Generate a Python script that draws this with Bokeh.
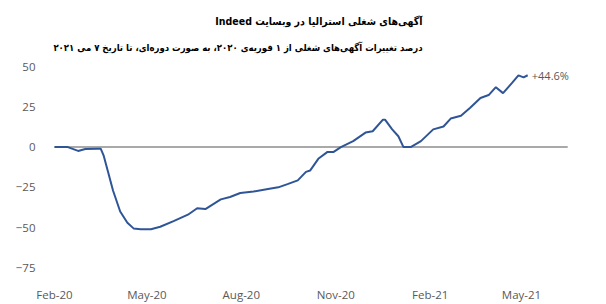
import pandas as pd
from bokeh.plotting import figure
from bokeh.models import Range1d, FixedTicker, Title, Label, ColumnDataSource, DatetimeTickFormatter
from bokeh.embed import file_html
from bokeh.resources import INLINE

# ---- data ----
dates = ["2020-02-01", "2020-02-14", "2020-02-24", "2020-03-02", "2020-03-14", "2020-03-17",
         "2020-03-20", "2020-03-24", "2020-03-29", "2020-04-05", "2020-04-12", "2020-04-18",
         "2020-04-25", "2020-05-05", "2020-05-14", "2020-05-27", "2020-06-10", "2020-06-19",
         "2020-06-27", "2020-07-12", "2020-07-21", "2020-07-31", "2020-08-13", "2020-08-27",
         "2020-09-06", "2020-09-15", "2020-09-25", "2020-10-03", "2020-10-07", "2020-10-15",
         "2020-10-24", "2020-10-30", "2020-11-06", "2020-11-18", "2020-11-30", "2020-12-07",
         "2020-12-17", "2020-12-19", "2020-12-26", "2021-01-01", "2021-01-06", "2021-01-13",
         "2021-01-23", "2021-02-04", "2021-02-14", "2021-02-21", "2021-03-03", "2021-03-12",
         "2021-03-22", "2021-03-30", "2021-04-06", "2021-04-13", "2021-04-22", "2021-04-28",
         "2021-05-03", "2021-05-07"]
values = [0.0, 0.0, -2.4, -1.2, -1.0, -1.0,
          -5.5, -15.0, -27.0, -40.0, -47.0, -50.5,
          -51.0, -51.0, -49.5, -46.0, -42.0, -38.0,
          -38.5, -32.5, -31.0, -28.5, -27.6, -26.0,
          -25.0, -23.0, -20.7, -15.4, -14.6, -7.3,
          -3.0, -3.0, 0.0, 3.7, 9.0, 9.8,
          17.0, 17.0, 11.0, 6.7, 0.0, 0.0,
          3.7, 11.0, 12.8, 17.7, 19.5, 24.4,
          30.5, 32.3, 37.2, 33.5, 40.0, 44.5,
          43.3, 44.6]
tick_dates = ["2020-02-01", "2020-05-01", "2020-08-01", "2020-11-01", "2021-02-01", "2021-05-01"]
tick_labels = ["Feb-20", "May-20", "Aug-20", "Nov-20", "Feb-21", "May-21"]
y_ticks = [-75, -50, -25, 0, 25, 50]
zero_line_dates = ["2020-02-01", "2021-06-15"]
end_label = "+44.6%"
title_1 = "آگهی‌های شغلی استرالیا در وبسایت Indeed"
title_2 = "درصد تغییرات آگهی‌های شغلی از ۱ فوریه‌ی ۲۰۲۰، به صورت دوره‌ای، تا تاریخ ۷ می ۲۰۲۱"

RLE, PDF = "\u202B", "\u202C"

src = ColumnDataSource(dict(x=pd.to_datetime(dates), y=values))

day = 86400000.0
x0 = pd.Timestamp(dates[0]).value / 1e6
xstart = x0 - 5.85 * day
xend = xstart + 537.8 * day

p = figure(width=606, height=304, output_backend="svg", toolbar_location=None,
           x_axis_type="datetime",
           x_range=Range1d(xstart, xend), y_range=Range1d(-81, 55),
           min_border_left=48, min_border_right=6, min_border_top=58, min_border_bottom=24)
p.title = None
p.outline_line_color = None
p.background_fill_color = "white"
p.border_fill_color = "white"
p.xgrid.visible = False
p.ygrid.visible = False

p.line(x=pd.to_datetime(zero_line_dates), y=[0, 0], line_color="#8c8c8c", line_width=1.5)
p.line("x", "y", source=src, line_color="#2F5597", line_width=2)

p.add_layout(Label(x=pd.Timestamp(dates[-1]).value / 1e6 + 4 * day, y=values[-1],
                   text=end_label, text_font="Open Sans", text_font_size="11px",
                   text_color="#595959", text_baseline="middle", text_align="left"))

tick_ms = [pd.Timestamp(d).value / 1e6 for d in tick_dates]
p.xaxis.ticker = FixedTicker(ticks=tick_ms)
fmt = "%b-%y"
p.xaxis.formatter = DatetimeTickFormatter(days=fmt, months=fmt, years=fmt, hours=fmt,
                                          context=None)
p.yaxis.ticker = FixedTicker(ticks=y_ticks)

for ax in (p.xaxis, p.yaxis):
    ax.axis_line_color = None
    ax.major_tick_line_color = None
    ax.minor_tick_line_color = None
    ax.major_label_text_font = "Open Sans"
    ax.major_label_text_font_size = "11.5px"
    ax.major_label_text_color = "#595959"
p.yaxis.major_label_standoff = 7
p.xaxis.major_label_standoff = 3

p.add_layout(Title(text=RLE + title_2 + PDF, text_font="DejaVu Sans Condensed",
                   text_font_size="9.5px", text_font_style="bold", text_color="#000000",
                   align="right", offset=178, standoff=12), "above")
p.add_layout(Title(text=RLE + title_1 + PDF, text_font="DejaVu Sans Condensed",
                   text_font_size="10.5px", text_font_style="bold", text_color="#000000",
                   align="right", offset=178, standoff=13), "above")

open("out.html", "w").write(file_html(p, INLINE))
